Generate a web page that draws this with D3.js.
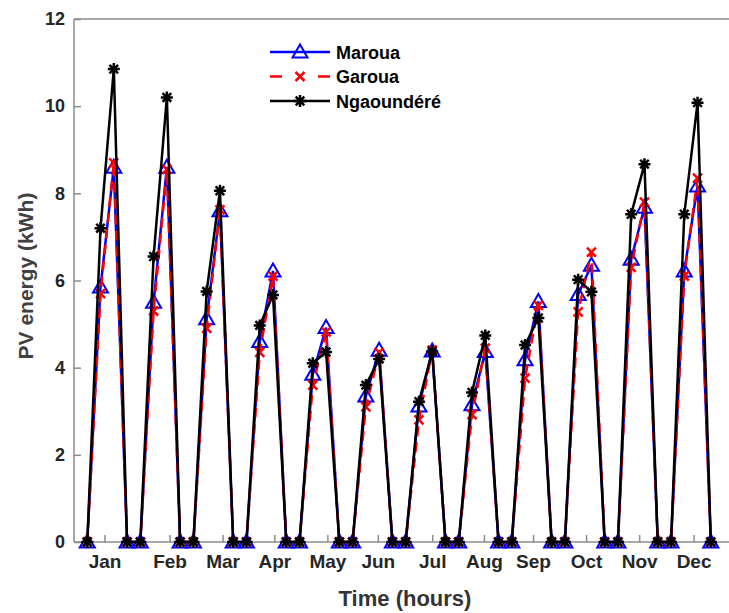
<!DOCTYPE html>
<html lang="en">
<head>
    <meta charset="UTF-8">
    <title>PV energy</title>
    <script src="https://cdn.jsdelivr.net/npm/d3@7"></script>
    <style>
        body { margin: 0; background: #fff; }
        svg text {
            font-family: "Liberation Sans", Arial, sans-serif;
            font-weight: bold;
        }
        .axis path,
        .axis line {
            fill: none;
            stroke: #8c8c8c;
            stroke-width: 1.5;
        }
        .axis text {
            fill: #262626;
        }
    </style>
</head>
<body>
<svg id="vis" width="729" height="613"></svg>
<script>
    // 4 points per month : 0, rise, peak, 0
    let months = ["Jan", "Feb", "Mar", "Apr", "May", "Jun", "Jul", "Aug", "Sep", "Oct", "Nov", "Dec"];
    let tickPos = [1.3, 6.2, 10.2, 14.1, 18.1, 21.9, 26.0, 29.9, 33.6, 37.6, 41.6, 45.7];
    let yTicks = [0, 2, 4, 6, 8, 10, 12];

    let maroua = [
        0, 5.85, 8.6, 0,   0, 5.5, 8.6, 0,   0, 5.12, 7.6, 0,   0, 4.6, 6.22, 0,
        0, 3.85, 4.92, 0,  0, 3.35, 4.4, 0,  0, 3.12, 4.38, 0,  0, 3.15, 4.37, 0,
        0, 4.18, 5.52, 0,  0, 5.68, 6.35, 0, 0, 6.49, 7.68, 0,  0, 6.22, 8.17, 0
    ];
    let garoua = [
        0, 5.7, 8.7, 0,    0, 5.3, 8.55, 0,  0, 4.9, 7.62, 0,   0, 4.35, 6.1, 0,
        0, 3.6, 4.82, 0,   0, 3.1, 4.35, 0,  0, 2.8, 4.4, 0,    0, 2.92, 4.45, 0,
        0, 3.76, 5.43, 0,  0, 5.28, 6.65, 0, 0, 6.3, 7.8, 0,    0, 6.1, 8.35, 0
    ];
    let ngaoundere = [
        0, 7.2, 10.85, 0,  0, 6.55, 10.2, 0, 0, 5.75, 8.06, 0,  0, 4.97, 5.67, 0,
        0, 4.1, 4.36, 0,   0, 3.6, 4.2, 0,   0, 3.22, 4.37, 0,  0, 3.43, 4.74, 0,
        0, 4.52, 5.14, 0,  0, 6.02, 5.74, 0, 0, 7.52, 8.67, 0,  0, 7.52, 10.08, 0
    ];

    let svg = d3.select("#vis");
    let margin = { top: 19, bottom: 542, left: 74 };

    let x = d3.scaleLinear().domain([-1, 49.2]).range([margin.left, 740]);
    let y = d3.scaleLinear().domain([0, 12]).range([margin.bottom, margin.top]);

    /* frame */
    svg.append("line")
        .attr("x1", margin.left).attr("x2", 740)
        .attr("y1", margin.top).attr("y2", margin.top)
        .attr("stroke", "#8c8c8c").attr("stroke-width", 1.5);

    let xAxis = svg.append("g")
        .attr("class", "axis")
        .attr("transform", "translate(0," + margin.bottom + ")")
        .call(d3.axisBottom(x).tickValues(tickPos).tickFormat((d, i) => months[i])
            .tickSize(-7).tickPadding(13));
    xAxis.selectAll("text").attr("font-size", 19);
    xAxis.select(".domain").attr("d", "M" + margin.left + ",0H740");

    let yAxis = svg.append("g")
        .attr("class", "axis")
        .attr("transform", "translate(" + margin.left + ",0)")
        .call(d3.axisLeft(y).tickValues(yTicks).tickSize(-7).tickPadding(9));
    yAxis.selectAll("text").attr("font-size", 18);
    yAxis.select(".domain").attr("d", "M0," + margin.bottom + "V" + margin.top);

    /* labels */
    svg.append("text")
        .attr("x", 405).attr("y", 606)
        .attr("text-anchor", "middle")
        .attr("font-size", 22).attr("fill", "#333")
        .text("Time (hours)");

    svg.append("text")
        .attr("transform", "translate(33,276) rotate(-90)")
        .attr("text-anchor", "middle")
        .attr("font-size", 21).attr("fill", "#404040")
        .text("PV energy (kWh)");

    /* markers */
    function drawMarker(g, type, color) {
        if (type === "tri") {
            g.append("path").attr("d", "M0,-7.5L7.5,5.5L-7.5,5.5Z")
                .attr("fill", "none").attr("stroke", color).attr("stroke-width", 2);
        } else if (type === "x") {
            g.append("path").attr("d", "M-4.5,-4.5L4.5,4.5M-4.5,4.5L4.5,-4.5")
                .attr("stroke", color).attr("stroke-width", 2.5);
        } else {
            g.append("path").attr("d", "M-6,0H6M0,-6V6M-4.3,-4.3L4.3,4.3M-4.3,4.3L4.3,-4.3")
                .attr("stroke", color).attr("stroke-width", 2.5);
            g.append("circle").attr("r", 3).attr("fill", color);
        }
    }

    let series = [
        { name: "Maroua", values: maroua, color: "#0000ff", dash: null, marker: "tri" },
        { name: "Garoua", values: garoua, color: "#ff0000", dash: "10,6", marker: "x" },
        { name: "Ngaoundéré", values: ngaoundere, color: "#000000", dash: null, marker: "star" }
    ];

    let line = d3.line().x((d, i) => x(i)).y((d) => y(d));

    series.forEach(function(s) {
        let g = svg.append("g");
        g.append("path")
            .attr("d", line(s.values))
            .attr("fill", "none")
            .attr("stroke", s.color)
            .attr("stroke-width", 2.5)
            .attr("stroke-dasharray", s.dash);
        s.values.forEach(function(v, i) {
            drawMarker(g.append("g").attr("transform", "translate(" + x(i) + "," + y(v) + ")"), s.marker, s.color);
        });
    });

    /* legend */
    let legend = svg.append("g").attr("transform", "translate(270,52)");
    series.forEach(function(s, i) {
        let row = legend.append("g").attr("transform", "translate(0," + (i * 24.5) + ")");
        row.append("line")
            .attr("x1", 0).attr("x2", 60)
            .attr("stroke", s.color).attr("stroke-width", 2.5)
            .attr("stroke-dasharray", s.dash ? "12,36" : null);
        drawMarker(row.append("g").attr("transform", "translate(30,0)"), s.marker, s.color);
        row.append("text")
            .attr("x", 66).attr("y", 6.5)
            .attr("font-size", 18).attr("fill", "#000")
            .text(s.name);
    });
</script>
</body>
</html>
